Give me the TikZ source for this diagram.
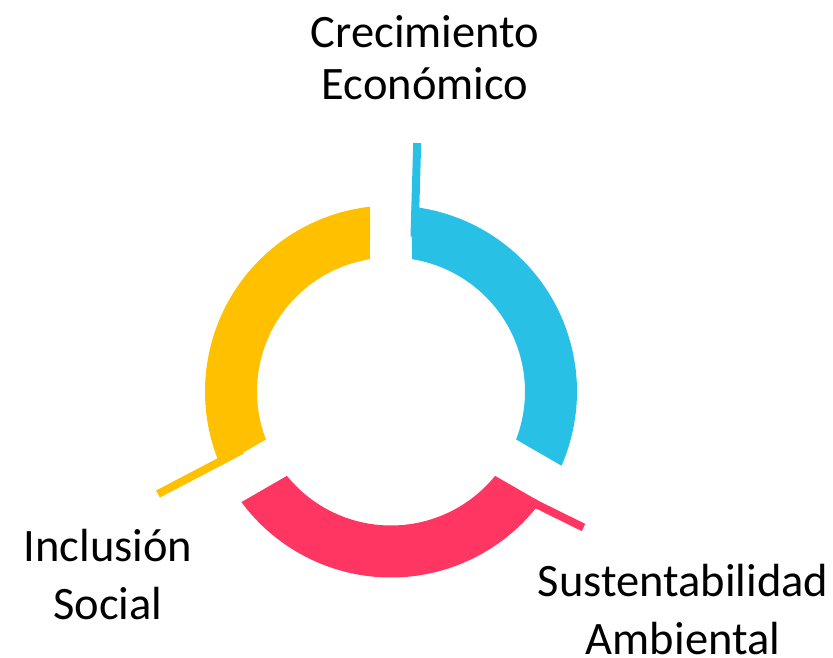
\documentclass[tikz,border=0pt]{standalone}
\usepackage{fontspec}
\setmainfont{Carlito}
\definecolor{ringblue}{HTML}{29C0E6}
\definecolor{ringgold}{HTML}{FFC000}
\definecolor{ringpink}{HTML}{FF3662}
\begin{document}
\begin{tikzpicture}[x=1pt,y=1pt]
		\useasboundingbox (-391,-265.5) rectangle (442,391.5);
		\fill[ringblue] (83.52:186) arc[start angle=83.52,end angle=-23.52,radius=186] -- (-20.98:134) arc[start angle=-20.98,end angle=80.98,radius=134] -- cycle;
		\fill[ringgold] (96.48:186) arc[start angle=96.48,end angle=203.52,radius=186] -- (200.98:134) arc[start angle=200.98,end angle=99.02,radius=134] -- cycle;
		\fill[ringpink] (216.48:186) arc[start angle=216.48,end angle=323.52,radius=186] -- (320.98:134) arc[start angle=320.98,end angle=219.02,radius=134] -- cycle;
		\draw[ringblue,line width=8] (23.5,154.8) -- (26.2,248.5);
		\draw[ringgold,line width=8] (-149,-58.5) -- (-233,-102.5);
		\draw[ringpink,line width=8] (118,-99.2) -- (192.5,-136);
		\node[align=center,anchor=base,font=\fontsize{46.5}{52}\selectfont] (crec) at (34,292) {Crecimiento\\Económico};
		\node[align=center,anchor=base,font=\fontsize{46.5}{58}\selectfont] (incl) at (-283,-227.5) {Inclusión\\Social};
		\node[align=center,anchor=base,font=\fontsize{46.5}{58}\selectfont] (sust) at (292,-263) {Sustentabilidad\\Ambiental};
	\end{tikzpicture}
\end{document}
